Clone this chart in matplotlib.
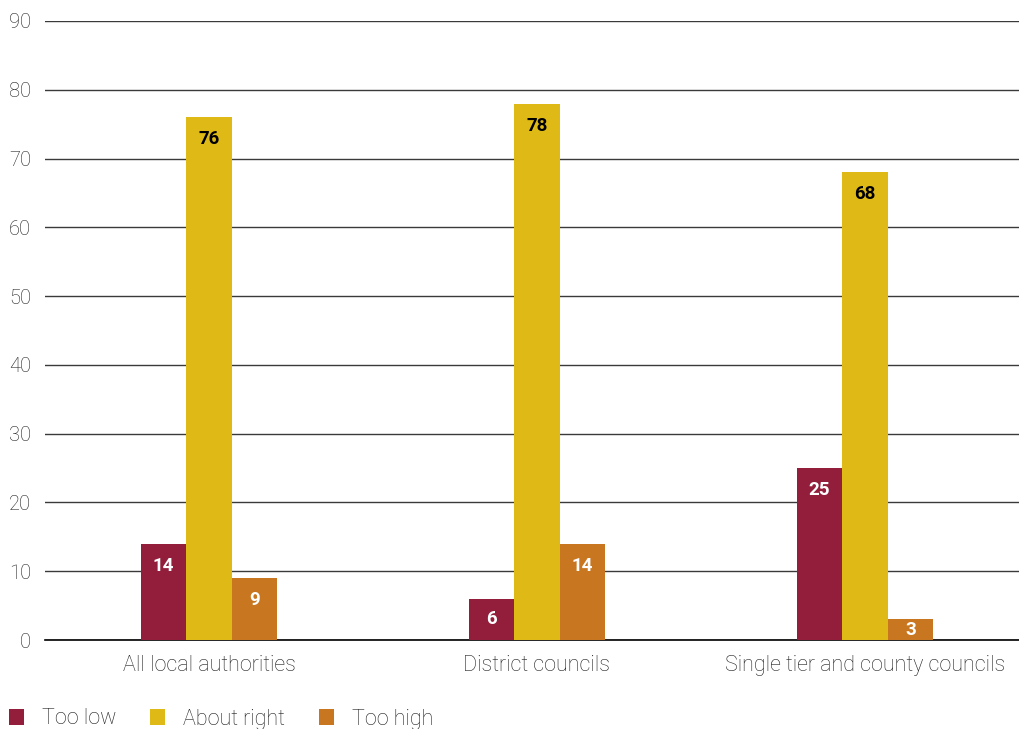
import matplotlib.pyplot as plt
import numpy as np
from matplotlib.patches import Patch

plt.rcParams['font.family'] = ['Roboto', 'Liberation Sans', 'DejaVu Sans']

groups = ['All local authorities', 'District councils', 'Single tier and county councils']
series = ['Too low', 'About right', 'Too high']
too_low = [14, 6, 25]
about_right = [76, 78, 68]
too_high = [9, 14, 3]
colors = ['#931e3c', '#dfb915', '#c87720']
label_colors = ['white', 'black', 'white']
text_color = '#1e1e1e'

fig = plt.figure(figsize=(10.19, 7.29), dpi=100)
ax = fig.add_axes([45 / 1019, 89 / 729, 984 / 1019, 619 / 729])

x = np.arange(len(groups))
w = 0.139
px_per_unit = 619 / 90
for i, vals in enumerate([too_low, about_right, too_high]):
    pos = x + (i - 1) * w
    ax.bar(pos, vals, width=w, color=colors[i], zorder=3)
    for p, v in zip(pos, vals):
        # label sits ~22px below the bar top, or mid-bar for short bars
        drop = min(22, v * px_per_unit / 2) * 0.72
        ax.annotate(str(v), (p, v), xytext=(0, -drop), textcoords='offset points',
                    ha='center', va='center', fontsize=13.5, fontweight='bold',
                    color=label_colors[i], zorder=4)

ax.set_xlim(-0.5, 2.5)
ax.set_ylim(0, 90)
ax.set_yticks(range(0, 91, 10))
ax.set_xticks(x)
ax.set_xticklabels(groups, fontsize=15.5, fontweight='light')
for t in ax.get_yticklabels():
    t.set_fontweight('light')
ax.yaxis.grid(True, color='#3a3a3a', linewidth=1.0, zorder=0)
ax.tick_params(axis='both', length=0, labelcolor=text_color)
ax.tick_params(axis='y', pad=10, labelsize=14.5)
ax.tick_params(axis='x', pad=11)
for s in ['top', 'right', 'left']:
    ax.spines[s].set_visible(False)
ax.spines['bottom'].set_color('black')
ax.spines['bottom'].set_linewidth(1.2)

handles = [Patch(facecolor=c) for c in colors]
leg = fig.legend(handles, series, loc='center left', bbox_to_anchor=(9 / 1019, 1 - 719 / 729),
                 ncol=3, frameon=False, fontsize=15.5, handlelength=0.7, handleheight=0.7,
                 handletextpad=0.85, columnspacing=1.55, borderpad=0, borderaxespad=0,
                 labelcolor=text_color)
for t in leg.get_texts():
    t.set_fontweight('light')

fig.savefig('out.png', dpi=100, facecolor='white')
